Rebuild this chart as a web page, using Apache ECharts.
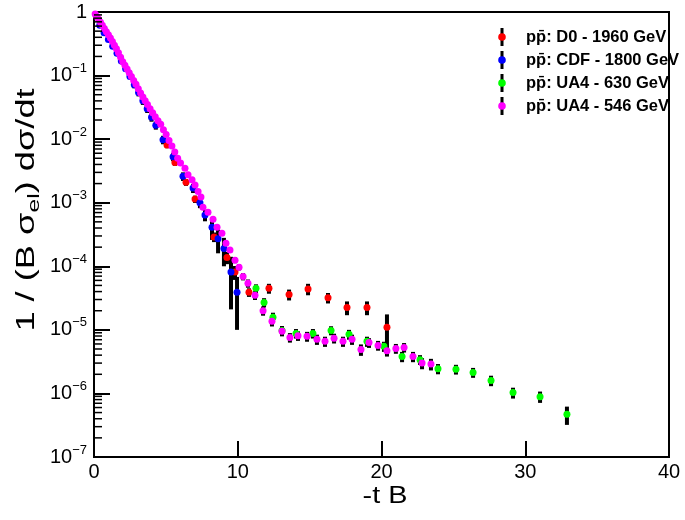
<!DOCTYPE html>
<html>
<head>
<meta charset="utf-8">
<script src="https://cdn.jsdelivr.net/npm/echarts@6/dist/echarts.min.js"></script>
<style>
html,body{margin:0;padding:0;background:#fff;}
#chart{width:685px;height:520px;}
</style>
</head>
<body>
<div id="chart"></div>
<script>
// ---- data ----
const seriesNames = ['pp\u0304: D0 - 1960 GeV', 'pp\u0304: CDF - 1800 GeV', 'pp\u0304: UA4 - 630 GeV', 'pp\u0304: UA4 - 546 GeV'];

const d0X = [5.08, 5.63, 6.40, 7.03, 8.35, 9.25, 9.81, 10.78, 12.17, 13.57, 14.89, 16.28, 17.60, 18.99, 20.38];
const d0Y = [8.1e-3, 4.3e-3, 2.1e-3, 1.14e-3, 2.9e-4, 1.38e-4, 8.1e-5, 3.9e-5, 4.5e-5, 3.6e-5, 4.4e-5, 3.2e-5, 2.25e-5, 2.25e-5, 1.1e-5];
const d0E = [9e-4, 5e-4, 2.6e-4, 1.5e-4, 5e-5, 3e-5, 2e-5, 6e-6, 8e-6, 7e-6, 9e-6, 6e-6, 5.5e-6, 5.5e-6, 6.5e-6];

const cdfX = [0.40, 0.70, 1.00, 1.30, 1.60, 1.90, 2.20, 2.50, 2.80, 3.10, 3.40, 3.70, 4.00, 4.30, 4.80, 5.50, 6.19, 6.89, 7.37, 7.72, 8.21, 8.63, 9.04, 9.53, 9.95];
const cdfY = [0.62, 0.47, 0.37, 0.29, 0.225, 0.17, 0.128, 0.097, 0.072, 0.054, 0.040, 0.030, 0.022, 0.0165, 0.0098, 0.0053, 0.0026, 0.0017, 0.0010, 6.4e-4, 4.1e-4, 2.7e-4, 1.9e-4, 8.1e-5, 3.9e-5];
const cdfE = [0.02, 0.015, 0.012, 0.01, 0.008, 0.007, 0.006, 0.005, 0.009, 0.007, 0.0055, 0.0042, 0.0032, 0.0024, 0.0015, 8e-4, 4e-4, 2.8e-4, 1.8e-4, 1.3e-4, 1.5e-4, 1.1e-4, 9e-5, 6e-5, 2.9e-5];

const ua630X = [11.27, 11.83, 12.45, 13.08, 14.05, 15.23, 16.49, 17.74, 18.99, 20.17, 21.43, 22.68, 23.93, 25.18, 26.37, 27.62, 29.15, 31.03, 32.90];
const ua630Y = [4.5e-5, 2.7e-5, 1.58e-5, 9.8e-6, 8.8e-6, 8.8e-6, 9.8e-6, 8.5e-6, 6.6e-6, 5.5e-6, 3.8e-6, 3.4e-6, 2.45e-6, 2.4e-6, 2.14e-6, 1.6e-6, 1.03e-6, 8.9e-7, 4.7e-7];
const ua630E = [7e-6, 4.5e-6, 2.8e-6, 1.7e-6, 1.5e-6, 1.5e-6, 1.6e-6, 1.5e-6, 1.2e-6, 1.0e-6, 7e-7, 6e-7, 4.5e-7, 4.2e-7, 3.8e-7, 3e-7, 2e-7, 1.8e-7, 1.5e-7];

const ua546X = [0.08,0.20,0.32,0.45,0.58,0.72,0.86,1.00,1.14,1.28,1.42,1.56,1.70,1.85,2.00,2.15,2.30,2.45,2.60,2.76,2.92,3.08,3.24,3.40,3.56,3.72,3.90,4.08,4.26,4.45,4.64,4.83,5.02,5.22,5.42,5.62,5.82,6.02,
  6.33,6.54,6.82,7.03,7.24,7.44,7.58,7.93,8.28,8.56,8.90,9.18,9.46,9.81,10.09,10.37,10.71,
  11.20,11.76,12.38,13.08,13.63,14.19,14.82,15.51,16.07,16.70,17.32,17.95,18.57,19.13,19.76,20.38,21.00,21.57,22.19,22.82,23.44];
const ua546Y = [0.93,0.85,0.77,0.69,0.62,0.55,0.49,0.44,0.39,0.345,0.30,0.265,0.228,0.195,0.165,0.145,0.127,0.111,0.097,0.084,0.073,0.062,0.053,0.046,0.040,0.035,0.030,0.026,0.0225,0.0195,0.0172,0.0140,0.0118,0.0095,0.0078,0.0063,0.0050,0.0042,
  0.0035,0.00275,0.0023,0.0019,0.0015,0.00123,8.5e-4,7.1e-4,5.5e-4,4.1e-4,3.3e-4,2.3e-4,1.8e-4,1.25e-4,9.7e-5,6.9e-5,5.4e-5,
  3.5e-5,2.0e-5,1.36e-5,9.5e-6,7.6e-6,8.1e-6,7.9e-6,7.1e-6,6.6e-6,7.4e-6,6.6e-6,7.1e-6,4.9e-6,6.3e-6,5.7e-6,4.7e-6,5.1e-6,5.3e-6,3.8e-6,3.0e-6,2.9e-6];
const ua546E = [0.023,0.021,0.019,0.017,0.015,0.014,0.012,0.011,0.010,0.009,0.008,0.007,0.006,0.005,0.0045,0.004,0.0035,0.003,0.0026,0.0023,0.002,0.0017,0.0015,0.0013,0.0011,0.001,0.0009,0.0008,0.0007,0.0006,0.0005,0.00045,0.0004,0.00033,0.00028,0.00023,0.00019,0.00016,
  1.8e-4,1.4e-4,1.2e-4,1.0e-4,8e-5,7e-5,5e-5,4.5e-5,3.5e-5,3e-5,2.5e-5,2e-5,1.6e-5,1.3e-5,1.1e-5,9e-6,8e-6,
  5.5e-6,3.3e-6,2.3e-6,1.6e-6,1.3e-6,1.4e-6,1.4e-6,1.3e-6,1.2e-6,1.3e-6,1.2e-6,1.3e-6,1.0e-6,1.1e-6,1.0e-6,9e-7,9e-7,9e-7,7e-7,6e-7,6e-7];

const xTicks = [0, 10, 20, 30, 40];
const yDecades = [-7, -6, -5, -4, -3, -2, -1, 0];
const yMinorMantissas = [2, 3, 4, 5, 6, 7, 8, 9];

const colors = ['#ff0000', '#0000ff', '#00ff00', '#ff00ff'];
const FONT = '"Liberation Sans", Arial, Helvetica, sans-serif';
const Y_MIN = 1e-7, Y_MAX = 1, X_MIN = 0, X_MAX = 40;

// ---- build ----
const majorVals = yDecades.map(e => Math.pow(10, e));
const minorVals = [];
yDecades.slice(0, -1).forEach(e => yMinorMantissas.forEach(m => minorVals.push(m * Math.pow(10, e))));

function pack(xs, ys, es) { return xs.map((x, i) => [x, ys[i], es[i]]); }
const sets = [pack(d0X, d0Y, d0E), pack(cdfX, cdfY, cdfE), pack(ua630X, ua630Y, ua630E), pack(ua546X, ua546Y, ua546E)];

function errRender(params, api) {
  const x = api.value(0), y = api.value(1), e = api.value(2);
  const p1 = api.coord([x, Math.min(y + e, Y_MAX)]);
  const p2 = api.coord([x, Math.max(y - e, Y_MIN)]);
  return { type: 'line', shape: { x1: p1[0], y1: p1[1], x2: p2[0], y2: p2[1] },
           style: { stroke: '#000', lineWidth: 4 } };
}

const series = [];
sets.forEach((d, i) => {
  series.push({ type: 'custom', name: 'err' + i, data: d, encode: { x: 0, y: 1 },
    renderItem: errRender, silent: true });
  series.push({ type: 'scatter', name: seriesNames[i], data: d.map(p => [p[0], p[1]]),
    symbol: 'circle', symbolSize: 7, itemStyle: { color: colors[i], opacity: 1 }, silent: true });
});

// minor tick marks of the log y axis, placed through the axis scale
series.push({
  type: 'custom', name: 'minorTicks', data: minorVals.map(v => [X_MIN, v]), encode: { x: 0, y: 1 },
  silent: true, z: 10,
  renderItem: function (params, api) {
    const p = api.coord([api.value(0), api.value(1)]);
    return { type: 'line', shape: { x1: p[0], y1: p[1], x2: p[0] + 8, y2: p[1] },
             style: { stroke: '#000', lineWidth: 1.5 } };
  }
});

function legendIcon(c) {
  const svg = "<svg xmlns='http://www.w3.org/2000/svg' width='24' height='18'>" +
    "<rect x='3.5' y='0' width='3' height='18' fill='black'/>" +
    "<circle cx='5' cy='9' r='3.8' fill='" + c + "'/></svg>";
  return 'image://data:image/svg+xml;charset=utf-8,' + encodeURIComponent(svg);
}

const chart = echarts.init(document.getElementById('chart'), null, { renderer: 'canvas' });
chart.setOption({
  animation: false,
  grid: { left: 94, right: 16, top: 12, bottom: 63, show: true, borderColor: '#000', borderWidth: 2 },
  xAxis: {
    type: 'value', min: X_MIN, max: X_MAX, interval: 10,
    axisLine: { show: true, onZero: false, lineStyle: { color: '#000', width: 2 } },
    axisTick: { show: true, inside: true, length: 16, lineStyle: { color: '#000', width: 2 } },
    axisLabel: { color: '#000', fontSize: 20, fontFamily: FONT, margin: 5 },
    splitLine: { show: false }
  },
  yAxis: {
    type: 'log', logBase: 10, min: Y_MIN, max: Y_MAX,
    axisLine: { show: true, lineStyle: { color: '#000', width: 2 } },
    axisTick: { show: true, inside: true, length: 16, customValues: majorVals, lineStyle: { color: '#000', width: 2 } },
    axisLabel: {
      customValues: majorVals, margin: 7, color: '#000',
      formatter: function (v) {
        const e = Math.round(Math.log10(v));
        return e === 0 ? '{b|1}' : '{b|10}{s|\u2212' + (-e) + '}';
      },
      rich: {
        b: { fontSize: 20, fontFamily: FONT, color: '#000' },
        s: { fontSize: 13, fontFamily: FONT, color: '#000', padding: [0, 0, 14, 0] }
      }
    },
    splitLine: { show: false }
  },
  legend: {
    orient: 'vertical', left: 492, top: 23, itemWidth: 24, itemHeight: 18, itemGap: 5,
    selectedMode: false,
    textStyle: { fontFamily: FONT, fontWeight: 'bold', fontSize: 16.5, color: '#000' },
    data: seriesNames.map((n, i) => ({ name: n, icon: legendIcon(colors[i]) }))
  },
  graphic: [
    { type: 'text', x: 27, y: 210, rotation: Math.PI / 2, scaleX: 1.45, silent: true,
      style: { text: '1 / (B \u03c3{s|el}) d\u03c3/dt', fontSize: 25, fontFamily: FONT, fill: '#000',
               align: 'center', verticalAlign: 'middle',
               rich: { s: { fontSize: 17, fontFamily: FONT, fill: '#000', padding: [14, 0, 0, 0] } } } },
    { type: 'text', x: 385, y: 496, scaleX: 1.2, silent: true,
      style: { text: '-t B', fontSize: 24, fontFamily: FONT, fill: '#000', align: 'center', verticalAlign: 'middle' } }
  ],
  series: series
});
</script>
</body>
</html>
